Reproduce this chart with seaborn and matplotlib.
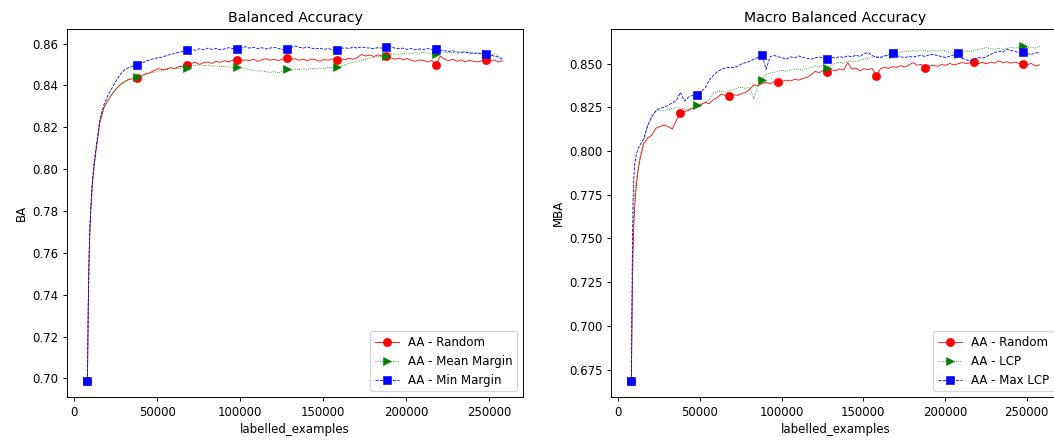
import matplotlib
matplotlib.use("Agg")
import matplotlib.pyplot as plt
import seaborn as sns

# ---------------- data ----------------
x_early = [8000, 8500, 9000, 9500, 10000, 11000, 12000]
x_main = list(range(13000, 258001, 2500))
labelled_examples = x_early + x_main

ba_marker_x = [8000, 38000, 68000, 98000, 128000, 158000, 188000, 218000, 248000]
mba_random_marker_x = [8000, 38000, 68000, 98000, 128000, 158000, 188000, 218000, 248000]
mba_lcp_marker_x = [8000, 48000, 88000, 128000, 168000, 208000, 248000]

ba_random = [0.699, 0.735, 0.758, 0.771, 0.780, 0.793, 0.801,
    0.8080, 0.8225, 0.8295, 0.8330, 0.8360, 0.8385, 0.8405, 0.8418, 0.8428, 0.8432,
    0.8435, 0.8445, 0.8455, 0.8460, 0.8470, 0.8480, 0.8475, 0.8478, 0.8485, 0.8480,
    0.8490, 0.8492, 0.8496, 0.8505, 0.8510, 0.8500, 0.8508, 0.8512, 0.8505, 0.8515,
    0.8510, 0.8518, 0.8512, 0.8520, 0.8520, 0.8515, 0.8522, 0.8518, 0.8525, 0.8515,
    0.8522, 0.8528, 0.8520, 0.8525, 0.8518, 0.8526, 0.8530, 0.8522, 0.8528, 0.8520,
    0.8525, 0.8518, 0.8526, 0.8522, 0.8515, 0.8524, 0.8520, 0.8527, 0.8523, 0.8528,
    0.8522, 0.8530, 0.8525, 0.8532, 0.8548, 0.8540, 0.8545, 0.8538, 0.8546, 0.8540,
    0.8540, 0.8532, 0.8525, 0.8530, 0.8522, 0.8528, 0.8520, 0.8515, 0.8522, 0.8518,
    0.8512, 0.8520, 0.8496, 0.8540, 0.8525, 0.8518, 0.8525, 0.8515, 0.8522, 0.8512,
    0.8520, 0.8515, 0.8512, 0.8518, 0.8520, 0.8515, 0.8522, 0.8512, 0.8518]

ba_mean_margin = [0.699, 0.735, 0.758, 0.771, 0.780, 0.793, 0.801,
    0.8080, 0.8225, 0.8295, 0.8332, 0.8362, 0.8386, 0.8404, 0.8420, 0.8430, 0.8436,
    0.8440, 0.8445, 0.8452, 0.8458, 0.8462, 0.8470, 0.8468, 0.8475, 0.8478, 0.8482,
    0.8480, 0.8486, 0.8485, 0.8492, 0.8496, 0.8498, 0.8495, 0.8497, 0.8492, 0.8494,
    0.8490, 0.8492, 0.8488, 0.8486, 0.8488, 0.8484, 0.8480, 0.8476, 0.8472, 0.8468,
    0.8470, 0.8465, 0.8462, 0.8466, 0.8460, 0.8468, 0.8480, 0.8472, 0.8478, 0.8475,
    0.8480, 0.8476, 0.8482, 0.8478, 0.8484, 0.8480, 0.8486, 0.8484, 0.8488, 0.8492,
    0.8498, 0.8505, 0.8510, 0.8516, 0.8520, 0.8526, 0.8530, 0.8534, 0.8536, 0.8538,
    0.8540, 0.8545, 0.8550, 0.8548, 0.8552, 0.8555, 0.8550, 0.8556, 0.8553, 0.8558,
    0.8555, 0.8552, 0.8552, 0.8556, 0.8560, 0.8555, 0.8558, 0.8552, 0.8556, 0.8560,
    0.8554, 0.8557, 0.8552, 0.8555, 0.8550, 0.8546, 0.8550, 0.8540, 0.8530]

ba_min_margin = [0.699, 0.737, 0.760, 0.773, 0.782, 0.795, 0.803,
    0.8090, 0.8240, 0.8310, 0.8355, 0.8390, 0.8425, 0.8455, 0.8475, 0.8485, 0.8492,
    0.8496, 0.8505, 0.8515, 0.8522, 0.8528, 0.8532, 0.8535, 0.8542, 0.8548, 0.8552,
    0.8558, 0.8562, 0.8568, 0.8572, 0.8568, 0.8575, 0.8570, 0.8578, 0.8572, 0.8576,
    0.8570, 0.8574, 0.8580, 0.8576, 0.8573, 0.8578, 0.8585, 0.8578, 0.8582, 0.8576,
    0.8580, 0.8574, 0.8578, 0.8582, 0.8576, 0.8572, 0.8573, 0.8580, 0.8588, 0.8582,
    0.8578, 0.8584, 0.8578, 0.8574, 0.8578, 0.8572, 0.8576, 0.8570, 0.8568, 0.8575,
    0.8580, 0.8576, 0.8582, 0.8578, 0.8584, 0.8580, 0.8578, 0.8576, 0.8580, 0.8578,
    0.8581, 0.8586, 0.8578, 0.8575, 0.8578, 0.8572, 0.8576, 0.8570, 0.8574, 0.8572,
    0.8576, 0.8570, 0.8573, 0.8568, 0.8565, 0.8562, 0.8565, 0.8560, 0.8558, 0.8560,
    0.8555, 0.8552, 0.8555, 0.8550, 0.8549, 0.8545, 0.8540, 0.8535, 0.8523]

mba_random = [0.6687, 0.715, 0.742, 0.758, 0.768, 0.780, 0.788,
    0.7940, 0.8040, 0.8075, 0.8090, 0.8130, 0.8140, 0.8148, 0.8140, 0.8125, 0.8175,
    0.8215, 0.8225, 0.8232, 0.8245, 0.8252, 0.8262, 0.8278, 0.8270, 0.8292, 0.8305,
    0.8325, 0.8318, 0.8315, 0.8322, 0.8318, 0.8328, 0.8335, 0.8352, 0.8378, 0.8372,
    0.8385, 0.8392, 0.8385, 0.8395, 0.8392, 0.8398, 0.8405, 0.8400, 0.8410, 0.8405,
    0.8415, 0.8420, 0.8435, 0.8455, 0.8448, 0.8460, 0.8454, 0.8465, 0.8458, 0.8470,
    0.8462, 0.8505, 0.8468, 0.8475, 0.8458, 0.8470, 0.8465, 0.8472, 0.8429, 0.8470,
    0.8478, 0.8472, 0.8482, 0.8478, 0.8488, 0.8480, 0.8492, 0.8505, 0.8490, 0.8495,
    0.8473, 0.8485, 0.8490, 0.8484, 0.8494, 0.8490, 0.8500, 0.8492, 0.8498, 0.8506,
    0.8500, 0.8505, 0.8511, 0.8500, 0.8506, 0.8498, 0.8508, 0.8502, 0.8515, 0.8505,
    0.8510, 0.8502, 0.8508, 0.8500, 0.8500, 0.8494, 0.8500, 0.8486, 0.8492]

mba_lcp = [0.6687, 0.720, 0.752, 0.768, 0.776, 0.784, 0.789,
    0.7960, 0.8060, 0.8150, 0.8205, 0.8228, 0.8232, 0.8228, 0.8236, 0.8242, 0.8248,
    0.8245, 0.8240, 0.8238, 0.8250, 0.8262, 0.8270, 0.8276, 0.8290, 0.8330, 0.8338,
    0.8344, 0.8336, 0.8345, 0.8352, 0.8360, 0.8364, 0.8358, 0.8366, 0.8298, 0.8372,
    0.8405, 0.8438, 0.8445, 0.8450, 0.8456, 0.8460, 0.8455, 0.8462, 0.8466, 0.8468,
    0.8462, 0.8472, 0.8478, 0.8486, 0.8482, 0.8490, 0.8473, 0.8495, 0.8502, 0.8506,
    0.8500, 0.8512, 0.8515, 0.8510, 0.8520, 0.8525, 0.8530, 0.8534, 0.8540, 0.8538,
    0.8545, 0.8550, 0.8553, 0.8560, 0.8566, 0.8572, 0.8568, 0.8575, 0.8570, 0.8576,
    0.8572, 0.8568, 0.8575, 0.8570, 0.8578, 0.8572, 0.8566, 0.8562, 0.8553, 0.8565,
    0.8572, 0.8568, 0.8574, 0.8580, 0.8586, 0.8591, 0.8585, 0.8582, 0.8588, 0.8580,
    0.8586, 0.8592, 0.8588, 0.8594, 0.8600, 0.8590, 0.8594, 0.8588, 0.8597]

mba_max_lcp = [0.6687, 0.735, 0.772, 0.785, 0.792, 0.798, 0.801,
    0.8030, 0.8070, 0.8145, 0.8195, 0.8230, 0.8244, 0.8250, 0.8262, 0.8275, 0.8288,
    0.8335, 0.8285, 0.8308, 0.8318, 0.8319, 0.8340, 0.8358, 0.8402, 0.8430, 0.8452,
    0.8466, 0.8475, 0.8478, 0.8477, 0.8485, 0.8498, 0.8505, 0.8512, 0.8525, 0.8535,
    0.8549, 0.8467, 0.8540, 0.8546, 0.8538, 0.8532, 0.8525, 0.8538, 0.8532, 0.8543,
    0.8535, 0.8530, 0.8525, 0.8532, 0.8538, 0.8530, 0.8528, 0.8536, 0.8530, 0.8540,
    0.8534, 0.8545, 0.8538, 0.8548, 0.8540, 0.8556, 0.8563, 0.8545, 0.8536, 0.8534,
    0.8542, 0.8550, 0.8559, 0.8545, 0.8538, 0.8534, 0.8540, 0.8536, 0.8543, 0.8546,
    0.8540, 0.8550, 0.8553, 0.8545, 0.8540, 0.8534, 0.8542, 0.8550, 0.8559, 0.8530,
    0.8522, 0.8515, 0.8525, 0.8534, 0.8530, 0.8540, 0.8552, 0.8563, 0.8570, 0.8565,
    0.8582, 0.8575, 0.8570, 0.8560, 0.8566, 0.8555, 0.8553, 0.8560, 0.8563]

for s in (ba_random, ba_mean_margin, ba_min_margin, mba_random, mba_lcp, mba_max_lcp):
    assert len(s) == len(labelled_examples), len(s)

# ---------------- figure ----------------
DPI = 85
fig = plt.figure(figsize=(1054 / DPI, 444 / DPI), dpi=DPI)
W, H = 1054.0, 444.0
ax1 = fig.add_axes([66.7 / W, 1 - 397.3 / H, (523.3 - 66.7) / W, (397.3 - 29.3) / H])
ax2 = fig.add_axes([611.0 / W, 1 - 397.3 / H, (1060.0 - 611.0) / W, (397.3 - 29.3) / H])


def idx(marker_x):
    return [labelled_examples.index(v) for v in marker_x]


def draw(ax, y, color, ls, marker, mx, label):
    sns.lineplot(x=labelled_examples, y=y, ax=ax, color=color, linestyle=ls,
                 marker=marker, markevery=idx(mx), markersize=7,
                 markeredgecolor=color, markerfacecolor=color,
                 markeredgewidth=0.5, linewidth=0.7, label=label,
                 errorbar=None, sort=False)


draw(ax1, ba_random, "red", "-", "o", ba_marker_x, "AA - Random")
draw(ax1, ba_mean_margin, "green", ":", ">", ba_marker_x, "AA - Mean Margin")
draw(ax1, ba_min_margin, "blue", "--", "s", ba_marker_x, "AA - Min Margin")

draw(ax2, mba_random, "red", "-", "o", mba_random_marker_x, "AA - Random")
draw(ax2, mba_lcp, "green", ":", ">", mba_lcp_marker_x, "AA - LCP")
draw(ax2, mba_max_lcp, "blue", "--", "s", mba_lcp_marker_x, "AA - Max LCP")

ax1.set_title("Balanced Accuracy")
ax1.set_xlabel("labelled_examples")
ax1.set_ylabel("BA")
ax2.set_title("Macro Balanced Accuracy")
ax2.set_xlabel("labelled_examples")
ax2.set_ylabel("MBA")

for ax in (ax1, ax2):
    ax.legend(loc="lower right")

fig.savefig("out.png", dpi=DPI)
